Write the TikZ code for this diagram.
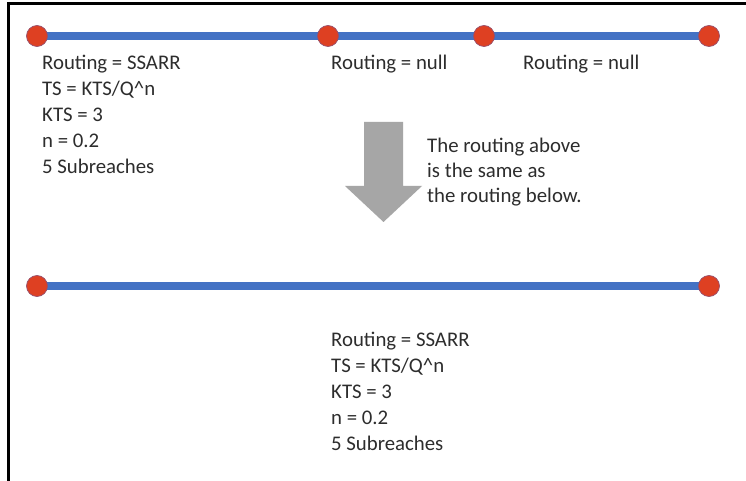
\documentclass[tikz,border=0pt]{standalone}
\usepackage{fontspec}
\setmainfont{Carlito}
\definecolor{routeblue}{RGB}{68,114,196}
\definecolor{dotred}{RGB}{222,64,34}
\definecolor{dotedge}{RGB}{150,80,110}
\definecolor{arrowgray}{RGB}{166,166,166}
\definecolor{txt}{RGB}{45,45,45}
\begin{document}
\begin{tikzpicture}[x=1bp,y=-1bp,
  route/.style={routeblue,line width=8bp},
  dot/.style={circle,fill=dotred,draw=dotedge,line width=0.7bp,minimum size=21bp,inner sep=0pt},
  lbl/.style={anchor=base west,inner sep=0pt,text=txt,font=\fontsize{20.8bp}{26bp}\selectfont},
  frame/.style={black,line width=3bp}]
\useasboundingbox (0,0) rectangle (746,481);
\fill[white] (0,0) rectangle (746,481);
% frame
\draw[frame] (7,3.2) -- (746,3.2);
\draw[frame] (8.8,2) -- (8.8,481);
% top route
\coordinate (t1) at (37,36);
\coordinate (t2) at (328,36);
\coordinate (t3) at (484,36);
\coordinate (t4) at (709,36);
\draw[route] (t1) -- (t2) -- (t3) -- (t4);
\node[dot] (d1) at (t1) {};
\node[dot] (d2) at (t2) {};
\node[dot] (d3) at (t3) {};
\node[dot] (d4) at (t4) {};
% bottom route
\coordinate (b1) at (37,286);
\coordinate (b2) at (709,286);
\draw[route] (b1) -- (b2);
\node[dot] (e1) at (b1) {};
\node[dot] (e2) at (b2) {};
% top labels
\node[lbl] (l1) at (42,70) {Routing = SSARR};
\node[lbl] (l2) at (42,96) {TS = KTS/Q\^{}n};
\node[lbl] (l3) at (42,122) {KTS = 3};
\node[lbl] (l4) at (42,148) {n = 0.2};
\node[lbl] (l5) at (42,174) {5 Subreaches};
\node[lbl] (m1) at (331,70) {Routing = null};
\node[lbl] (r1) at (523,70) {Routing = null};
% arrow
\fill[arrowgray] (364,122) -- (403,122) -- (403,186) -- (422,186) -- (383.5,222) -- (345,186) -- (364,186) -- cycle;
\node[lbl] (n1) at (427,153) {The routing above};
\node[lbl] (n2) at (427,178) {is the same as};
\node[lbl] (n3) at (427,203) {the routing below.};
% bottom labels
\node[lbl] (k1) at (331,346) {Routing = SSARR};
\node[lbl] (k2) at (331,372) {TS = KTS/Q\^{}n};
\node[lbl] (k3) at (331,398) {KTS = 3};
\node[lbl] (k4) at (331,424) {n = 0.2};
\node[lbl] (k5) at (331,450) {5 Subreaches};
\end{tikzpicture}
\end{document}
